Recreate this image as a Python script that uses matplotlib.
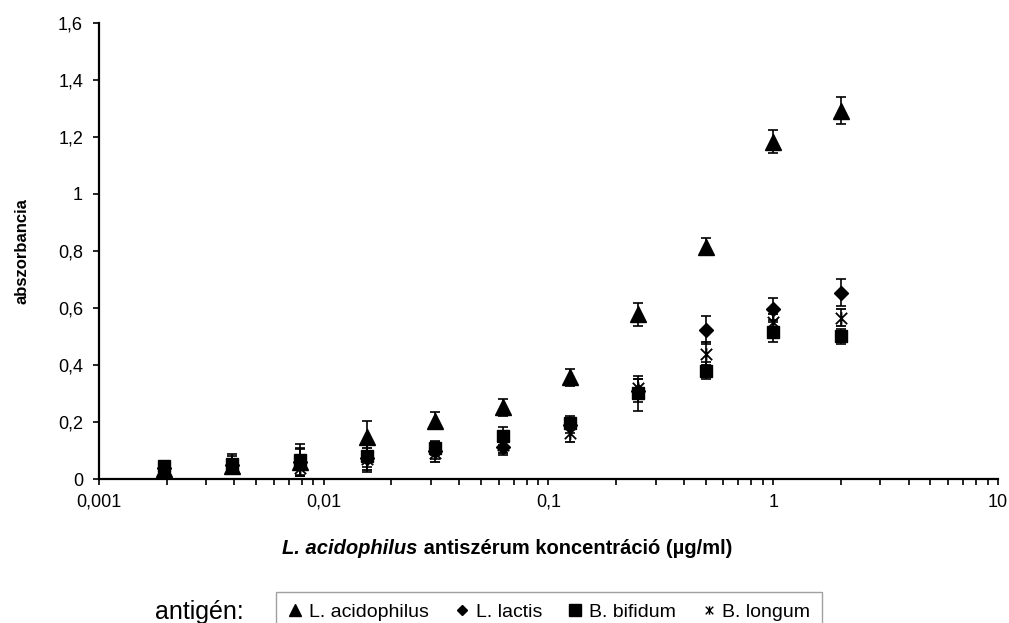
import numpy as np
import matplotlib
matplotlib.use("Agg")
import matplotlib.pyplot as plt
from matplotlib.path import Path
from matplotlib.lines import Line2D
from matplotlib.ticker import FixedLocator, FuncFormatter, LogLocator, NullFormatter

plt.rcParams['font.family'] = ['Liberation Sans', 'DejaVu Sans']

# antiserum dilution series (ug/ml)
conc = [0.001953125, 0.00390625, 0.0078125, 0.015625, 0.03125, 0.0625,
        0.125, 0.25, 0.5, 1, 2]

acidophilus = [0.035, 0.045, 0.060, 0.148, 0.205, 0.251, 0.357, 0.578, 0.815, 1.183, 1.291]
acidophilus_err = [0.015, 0.025, 0.045, 0.055, 0.030, 0.030, 0.030, 0.040, 0.030, 0.040, 0.048]

lactis = [0.040, 0.050, 0.060, 0.075, 0.100, 0.113, 0.190, 0.310, 0.522, 0.597, 0.653]
lactis_err = [0.020, 0.030, 0.050, 0.050, 0.030, 0.030, 0.030, 0.040, 0.050, 0.038, 0.047]

bifidum = [0.045, 0.052, 0.067, 0.082, 0.108, 0.151, 0.195, 0.300, 0.380, 0.516, 0.500]
bifidum_err = [0.015, 0.035, 0.055, 0.040, 0.025, 0.030, 0.020, 0.060, 0.030, 0.035, 0.025]

longum = [0.010, 0.040, 0.040, 0.070, 0.090, 0.120, 0.160, 0.320, 0.440, 0.550, 0.566]
longum_err = [0.010, 0.020, 0.030, 0.040, 0.030, 0.030, 0.030, 0.030, 0.040, 0.030, 0.030]

labels = ['L. acidophilus', 'L. lactis', 'B. bifidum', 'B. longum']

# Excel-style star: an X with a vertical stroke through it
star = Path([(-1, -1), (1, 1), (-1, 1), (1, -1), (0, -1.1), (0, 1.1)],
            [Path.MOVETO, Path.LINETO, Path.MOVETO, Path.LINETO, Path.MOVETO, Path.LINETO])

series = [
    (acidophilus, acidophilus_err, dict(marker='^', ms=11, mfc='k', mec='k')),
    (lactis, lactis_err, dict(marker='D', ms=7, mfc='k', mec='k')),
    (bifidum, bifidum_err, dict(marker='s', ms=9, mfc='k', mec='k')),
    (longum, longum_err, dict(marker=star, ms=9, mfc='none', mec='k', mew=1.3)),
]

fig = plt.figure(figsize=(10.09, 6.23), dpi=100)
ax = fig.add_axes([0.0981, 0.2311, 0.8910, 0.7325])

for vals, err, style in series:
    ax.errorbar(conc, vals, yerr=err, ls='none', ecolor='k', elinewidth=1.2,
                capsize=3.5, capthick=1.2, **style)

ax.set_xscale('log')
ax.set_xlim(0.001, 10)
ax.set_ylim(0, 1.6)
ax.yaxis.set_major_locator(FixedLocator(np.arange(0, 1.61, 0.2)))

def comma_fmt(v, pos):
    s = f'{v:.3f}'.rstrip('0').rstrip('.')
    return s.replace('.', ',')

ax.yaxis.set_major_formatter(FuncFormatter(comma_fmt))
ax.xaxis.set_major_locator(LogLocator(base=10, numticks=10))
ax.xaxis.set_major_formatter(FuncFormatter(comma_fmt))
ax.xaxis.set_minor_locator(LogLocator(base=10, subs=np.arange(2, 10), numticks=20))
ax.xaxis.set_minor_formatter(NullFormatter())

for side in ['top', 'right']:
    ax.spines[side].set_visible(False)
for side in ['left', 'bottom']:
    ax.spines[side].set_linewidth(1.6)

ax.tick_params(axis='both', which='major', direction='out', length=4.5, width=1.2,
               labelsize=13, colors='k')
ax.tick_params(axis='x', which='minor', direction='out', length=4, width=1.2)
ax.tick_params(axis='x', pad=6)
ax.tick_params(axis='y', pad=7)

ax.set_ylabel('abszorbancia', fontsize=12, fontweight='bold')
ax.yaxis.set_label_coords(-0.0768, 0.5)

# x-axis title: italic species name followed by plain bold text
fig.canvas.draw()
renderer = fig.canvas.get_renderer()
t1 = fig.text(0, 0, 'L. acidophilus', fontsize=14.5, fontweight='bold',
              fontstyle='italic', va='center')
t2 = fig.text(0, 0, ' antiszérum koncentráció (µg/ml)', fontsize=14.5,
              fontweight='bold', va='center')
w1 = t1.get_window_extent(renderer).width
w2 = t2.get_window_extent(renderer).width
x0 = 507 - (w1 + w2) / 2
ytxt = 1 - 548 / 623
t1.set_position((x0 / 1009, ytxt))
t2.set_position(((x0 + w1) / 1009, ytxt))

# legend row at the bottom
handles = [
    Line2D([], [], ls='none', marker='^', ms=9, mfc='k', mec='k'),
    Line2D([], [], ls='none', marker='D', ms=5.5, mfc='k', mec='k'),
    Line2D([], [], ls='none', marker='s', ms=8, mfc='k', mec='k'),
    Line2D([], [], ls='none', marker=star, ms=6, mfc='none', mec='k', mew=1),
]
leg = fig.legend(handles, labels, ncol=4, loc='upper left',
                 bbox_to_anchor=(276 / 1009, 1 - 592 / 623), fontsize=14,
                 frameon=True, fancybox=False, edgecolor='#888888',
                 handlelength=0.8, handletextpad=0.3, columnspacing=1.3,
                 borderpad=0.6, borderaxespad=0)
leg.get_frame().set_linewidth(1.0)
fig.text(155 / 1009, 1 - 612 / 623, 'antigén:', fontsize=18, va='center', ha='left')

fig.savefig('out.png', dpi=100)
